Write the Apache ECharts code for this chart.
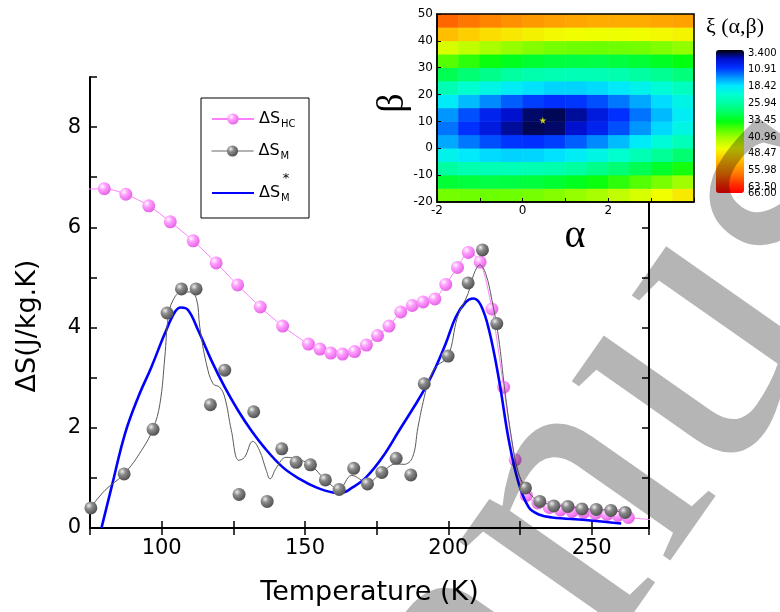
<!DOCTYPE html>
<html><head><meta charset="utf-8">
<script src="https://cdn.jsdelivr.net/npm/echarts@6/dist/echarts.min.js"></script>
<style>html,body{margin:0;padding:0;background:#fff}#c{width:780px;height:612px}</style>
</head><body><div id="c"></div>
<script>
// ---------- main chart data ----------
const HC_T = [72, 80, 87.5, 95.5, 103, 111, 119, 126.5, 134.4, 142.2, 151.2, 155.2, 159, 163.1, 167.3, 171.4, 175.3, 179.3, 183.4, 187.4, 191.2, 195.3, 199.1, 203.2, 207, 211.1, 215.2, 219.3, 223.3, 227.2, 231.2, 235.2, 239.1, 243.2, 247.2, 251.3, 255.4, 259.2, 262.8, 272];
const HC_S = [6.76, 6.77, 6.66, 6.43, 6.11, 5.73, 5.29, 4.85, 4.41, 4.03, 3.67, 3.57, 3.49, 3.47, 3.52, 3.65, 3.84, 4.03, 4.31, 4.44, 4.51, 4.57, 4.86, 5.20, 5.50, 5.31, 4.37, 2.81, 1.36, 0.65, 0.50, 0.41, 0.36, 0.33, 0.31, 0.29, 0.27, 0.25, 0.21, 0.16];

const M_T = [75.3, 86.9, 97, 101.9, 106.9, 112, 117, 122, 127, 132.1, 136.8, 141.9, 146.9, 151.9, 157.1, 161.9, 167, 171.8, 176.8, 181.8, 186.9, 191.6, 199.9, 206.9, 211.9, 216.9, 226.9, 231.9, 236.8, 241.7, 246.6, 251.6, 256.7, 261.7];
const M_S = [0.40, 1.08, 1.97, 4.29, 4.77, 4.77, 2.46, 3.15, 0.67, 2.32, 0.53, 1.58, 1.31, 1.26, 0.96, 0.77, 1.19, 0.88, 1.11, 1.39, 1.06, 2.88, 3.43, 4.89, 5.55, 4.08, 0.80, 0.53, 0.44, 0.43, 0.38, 0.37, 0.35, 0.31];

const FIT_T = [75, 80.2, 86.9, 93, 97, 99.4, 101.1, 102.3, 104, 106.9, 109.8, 112.1, 113.3, 115.6, 117.9, 120.2, 122, 124.3, 126.9, 128.9, 131.8, 134.1, 136.5, 137.8, 140, 143.4, 146.9, 151.9, 157.1, 161.9, 166.3, 171.8, 176.8, 181.8, 184.5, 187.5, 189.4, 191.6, 193.3, 195.6, 199.9, 203.2, 206.9, 209, 211, 213, 215.2, 217.5, 219.7, 222, 224.2, 226.9, 229.7, 232, 236.8, 241.7, 246.6, 251.6, 256.7, 261.7];
const FIT_S = [0.39, 0.75, 1.08, 1.55, 1.98, 2.48, 3.41, 4.21, 4.55, 4.71, 4.71, 4.58, 4.01, 3.28, 2.88, 2.81, 2.61, 1.95, 1.35, 1.41, 1.73, 1.55, 1.15, 0.98, 1.20, 1.41, 1.38, 1.26, 0.96, 0.78, 1.05, 0.91, 1.11, 1.28, 1.27, 1.41, 2.01, 2.61, 2.95, 3.21, 3.43, 4.21, 4.68, 5.08, 5.25, 5.08, 4.55, 3.81, 2.75, 1.81, 1.15, 0.80, 0.61, 0.52, 0.46, 0.43, 0.39, 0.37, 0.35, 0.31];

const STAR_T = [79, 82.5, 87.2, 91.8, 96.4, 101.1, 104.6, 106.7, 109.2, 112.7, 117.3, 122, 126.6, 131.2, 136.2, 142.3, 148.1, 153.9, 159.7, 162.5, 166.6, 171.3, 177, 182.9, 188.7, 192.1, 195.6, 199.1, 202.6, 206.1, 208.7, 211.3, 214.2, 217.7, 221.1, 224.6, 228.1, 231.6, 236.2, 247.8, 260.3];
const STAR_S = [0, 0.81, 1.88, 2.61, 3.21, 3.88, 4.31, 4.40, 4.35, 3.95, 3.35, 2.81, 2.35, 1.95, 1.58, 1.21, 0.98, 0.81, 0.71, 0.70, 0.81, 1.01, 1.41, 1.95, 2.48, 2.81, 3.21, 3.68, 4.21, 4.51, 4.58, 4.45, 3.95, 2.95, 1.75, 0.88, 0.41, 0.27, 0.21, 0.16, 0.09];

// ---------- inset data: xi(alpha, beta) at cell centres ----------
const ALPHA_C = [-1.75, -1.25, -0.75, -0.25, 0.25, 0.75, 1.25, 1.75, 2.25, 2.75, 3.25, 3.75];
const BETA_C = [-17.5, -12.5, -7.5, -2.5, 2.5, 7.5, 12.5, 17.5, 22.5, 27.5, 32.5, 37.5, 42.5, 47.5];
const XI_ROWS = [
  [39.6,39.3,39.2,39.3,39.7,40.3,41.2,42.2,43.5,44.9,46.5,48.2],
  [32.9,32.4,32.1,32.2,32.5,33.1,34.0,35.1,36.5,38.1,39.8,41.7],
  [26.6,25.7,25.2,25.1,25.3,25.9,26.9,28.2,29.7,31.4,33.4,35.5],
  [20.8,19.4,18.5,18.1,18.2,18.8,19.9,21.3,23.1,25.2,27.4,29.8],
  [16.2,14.1,12.5,11.4,11.2,11.8,13.1,14.9,17.1,19.6,22.2,24.9],
  [14.0,11.2,8.5,6.3,5.0,5.4,7.3,9.8,12.5,15.4,18.4,21.3],
  [15.4,12.5,9.8,7.3,5.4,5.0,6.3,8.5,11.2,14.0,17.0,19.9],
  [19.6,17.1,14.9,13.1,11.8,11.2,11.4,12.5,14.1,16.2,18.5,21.1],
  [25.2,23.1,21.3,19.9,18.8,18.2,18.1,18.5,19.4,20.8,22.4,24.4],
  [31.4,29.7,28.2,26.9,25.9,25.3,25.1,25.2,25.7,26.6,27.7,29.2],
  [38.1,36.5,35.1,34.0,33.1,32.5,32.2,32.1,32.4,32.9,33.8,34.8],
  [44.9,43.5,42.2,41.2,40.3,39.7,39.3,39.2,39.3,39.6,40.2,41.0],
  [51.8,50.5,49.3,48.4,47.6,46.9,46.5,46.3,46.3,46.5,46.9,47.4],
  [58.8,57.6,56.5,55.6,54.8,54.2,53.7,53.4,53.3,53.4,53.7,54.1]
];
const MIN_POINT = [0.47, 10.4];
const CBAR_TICKS = [3.4, 10.91, 18.42, 25.94, 33.45, 40.96, 48.47, 55.98, 63.5];
const CBAR_END_TICK = [66];
const XI_MIN = 3.4, XI_MAX = 66;

// ---------- layout ----------
const MAIN = {left: 90, top: 77, width: 559, height: 451};
const INSET = {left: 437, top: 14, width: 257, height: 188};
const CBAR = {left: 716, top: 53, width: 28, height: 140};
const X_MIN = 75, X_MAX = 270;

const chart = echarts.init(document.getElementById('c'), null, {renderer: 'canvas'});

const pinkBall = new echarts.graphic.RadialGradient(0.35, 0.32, 0.75, [
  {offset: 0, color: '#ffffff'}, {offset: 0.35, color: '#ffa0ff'}, {offset: 1, color: '#e35ce3'}]);
const grayBall = new echarts.graphic.RadialGradient(0.35, 0.32, 0.75, [
  {offset: 0, color: '#eeeeee'}, {offset: 0.35, color: '#8c8c8c'}, {offset: 1, color: '#4a4a4a'}]);

const zip = (a, b) => a.map((v, i) => [v, b[i]]);
const hcData = HC_T.map((t, i) => {
  const it = {value: [t, HC_S[i]]};
  if (t < X_MIN || t > X_MAX) it.symbol = 'none';
  return it;
});
const heatData = [];
XI_ROWS.forEach((row, j) => row.forEach((v, i) => heatData.push([i, j, v])));

const FONT = 'DejaVu Sans';
const legendCommon = {
  orient: 'vertical', left: 211, itemWidth: 42, itemHeight: 14, itemGap: 0,
  selectedMode: false, padding: 0,
  formatter: n => n === 'ΔS_HC' ? '{m|ΔS}{s|HC}' : '{m|ΔS}{s|M}',
  textStyle: {color: '#000', fontFamily: FONT, fontSize: 16,
    rich: {m: {fontFamily: FONT, fontSize: 16, color: '#000'},
           s: {fontFamily: FONT, fontSize: 10, color: '#000', padding: [10, 0, 0, 1]}}}
};

const mainAxisCommon = {
  type: 'value', min: X_MIN, max: X_MAX, interval: 25, gridIndex: 0,
  axisLine: {show: true, lineStyle: {color: '#000', width: 2}},
  axisTick: {show: true, inside: true, length: 7, lineStyle: {color: '#000', width: 1.5}},
  splitLine: {show: false}
};
const mainYCommon = {
  type: 'value', min: 0, max: 9, interval: 1, gridIndex: 0,
  axisLine: {show: true, lineStyle: {color: '#000', width: 2}},
  axisTick: {show: true, inside: true, length: 7, lineStyle: {color: '#000', width: 1.5}},
  splitLine: {show: false}
};
const cbarAxisCommon = {
  type: 'value', gridIndex: 2, min: XI_MIN, max: XI_MAX, inverse: true, position: 'right',
  axisLine: {show: false}, axisTick: {show: false}, splitLine: {show: false}
};
const cbarLabel = {fontFamily: FONT, fontSize: 10, color: '#000', margin: 4,
  formatter: v => (v < 10 ? v.toFixed(3) : v.toFixed(2))};

const option = {
  animation: false,
  backgroundColor: '#fff',
  grid: [
    Object.assign({containLabel: false}, MAIN),
    Object.assign({show: true, backgroundColor: '#fff', borderWidth: 0}, INSET),
    Object.assign({show: false}, CBAR)
  ],
  xAxis: [
    Object.assign({}, mainAxisCommon, {position: 'bottom',
      axisLabel: {fontFamily: FONT, fontSize: 21, color: '#000', margin: 10,
        formatter: v => (v % 50 === 0 ? String(v) : '')},
      name: 'Temperature (K)', nameLocation: 'middle', nameGap: 51,
      nameTextStyle: {fontFamily: FONT, fontSize: 27, color: '#000'}}),
    Object.assign({}, mainAxisCommon, {position: 'top', axisLabel: {show: false}}),
    {type: 'category', gridIndex: 1, data: ALPHA_C, show: false},
    {type: 'value', gridIndex: 1, min: -2, max: 4, interval: 1, position: 'bottom', z: 6,
      axisLine: {show: true, onZero: false, lineStyle: {color: '#000', width: 1.5}},
      axisTick: {show: true, inside: true, length: 4, lineStyle: {color: '#000'}},
      axisLabel: {fontFamily: FONT, fontSize: 12, color: '#000', margin: 3,
        formatter: v => (v % 2 === 0 && v < 4 ? String(v) : '')},
      splitLine: {show: false}},
    {type: 'value', gridIndex: 2, show: false, min: 0, max: 1}
  ],
  yAxis: [
    Object.assign({}, mainYCommon, {position: 'left',
      axisLabel: {fontFamily: FONT, fontSize: 21, color: '#000', margin: 9,
        formatter: v => (v % 2 === 0 ? String(v) : '')}}),
    Object.assign({}, mainYCommon, {position: 'right', axisLabel: {show: false}}),
    {type: 'category', gridIndex: 1, data: BETA_C, show: false},
    {type: 'value', gridIndex: 1, min: -20, max: 50, interval: 10, position: 'left', z: 6,
      axisLine: {show: true, onZero: false, lineStyle: {color: '#000', width: 1.5}},
      axisTick: {show: true, inside: true, length: 4, lineStyle: {color: '#000'}},
      axisLabel: {fontFamily: FONT, fontSize: 12, color: '#000', margin: 4},
      splitLine: {show: false}},
    Object.assign({}, cbarAxisCommon, {axisLabel: Object.assign({customValues: CBAR_TICKS}, cbarLabel)}),
    Object.assign({}, cbarAxisCommon, {axisLabel: Object.assign({customValues: CBAR_END_TICK, showMaxLabel: true}, cbarLabel)})
  ],
  visualMap: {
    type: 'continuous', seriesIndex: 4, dimension: 2, min: XI_MIN, max: XI_MAX,
    inverse: true, orient: 'vertical', left: CBAR.left, top: CBAR.top - 3,
    itemWidth: CBAR.width, itemHeight: CBAR.height + 3, padding: 0,
    calculable: false, hoverLink: false, realtime: false, showLabel: false,
    inRange: {color: ['#000000', '#0010d0', '#0030ff', '#0090ff', '#00e8ff', '#00ffd0', '#00ffa0',
      '#00ff60', '#00ff10', '#60ff00', '#b0ff00', '#f0ff00', '#ffd000', '#ffa000', '#ff7000', '#ff3000', '#ff0000']}
  },
  legend: [
    Object.assign({}, legendCommon, {top: 111, data: ['ΔS_HC']}),
    Object.assign({}, legendCommon, {top: 143, data: [{name: 'ΔS_M', lineStyle: {color: '#666', width: 1, opacity: 1}}]}),
    Object.assign({}, legendCommon, {top: 185, data: [{name: 'ΔS_M*', itemStyle: {opacity: 0}}]})
  ],
  series: [
    {name: 'ΔS_HC', type: 'line', xAxisIndex: 0, yAxisIndex: 0, data: hcData, smooth: 0.3,
      symbol: 'circle', symbolSize: 13, itemStyle: {color: pinkBall},
      lineStyle: {color: '#ff80ff', width: 1}, z: 2},
    {name: 'ΔS_M*', type: 'line', xAxisIndex: 0, yAxisIndex: 0, data: zip(STAR_T, STAR_S), smooth: 0.4,
      symbol: 'none', lineStyle: {color: '#0000ff', width: 2.6}, itemStyle: {color: '#0000ff'}, z: 3},
    {name: 'ΔS_M fit', type: 'line', xAxisIndex: 0, yAxisIndex: 0, data: zip(FIT_T, FIT_S), smooth: 0.4,
      symbol: 'none', lineStyle: {color: '#5a5a5a', width: 1}, z: 4},
    {name: 'ΔS_M', type: 'line', xAxisIndex: 0, yAxisIndex: 0, data: zip(M_T, M_S),
      symbol: 'circle', symbolSize: 13, itemStyle: {color: grayBall},
      lineStyle: {color: '#666', width: 1, opacity: 0}, z: 5},
    {name: 'xi', type: 'heatmap', xAxisIndex: 2, yAxisIndex: 2, data: heatData, z: 3,
      itemStyle: {borderWidth: 0}, emphasis: {disabled: true}},
    {name: 'min', type: 'scatter', xAxisIndex: 3, yAxisIndex: 3, data: [MIN_POINT], z: 10,
      symbol: 'path://M50,0 L61,35 L98,35 L68,57 L79,91 L50,70 L21,91 L32,57 L2,35 L39,35 Z',
      symbolSize: 7, itemStyle: {color: '#ffff00'}}
  ],
  graphic: [
    {type: 'text', x: 28, y: 326, rotation: Math.PI / 2, z: 5,
      style: {text: 'ΔS(J/kg.K)', fontFamily: FONT, fontSize: 27, fill: '#000', align: 'center', verticalAlign: 'middle'}},
    {type: 'rect', shape: {x: 201, y: 98, width: 108, height: 120}, z: 1,
      style: {fill: '#fff', stroke: '#000', lineWidth: 1}},
    {type: 'text', x: 286, y: 179, z: 6,
      style: {text: '*', fontFamily: FONT, fontSize: 13, fill: '#000', align: 'center', verticalAlign: 'middle'}},
    {type: 'rect', shape: {x: INSET.left, y: INSET.top, width: INSET.width, height: INSET.height}, z: 50,
      style: {fill: 'none', stroke: '#000', lineWidth: 1.5}},
    {type: 'text', x: 575, y: 236, z: 6,
      style: {text: 'α', font: '40px "Liberation Serif"', fill: '#000', align: 'center', verticalAlign: 'middle'}},
    {type: 'text', x: 393, y: 103, rotation: Math.PI / 2, z: 6,
      style: {text: 'β', font: '38px "Liberation Serif"', fill: '#000', align: 'center', verticalAlign: 'middle'}},
    {type: 'text', x: 735, y: 27, z: 6,
      style: {text: 'ξ (α,β)', font: '22px "Liberation Serif"', fill: '#000', align: 'center', verticalAlign: 'middle'}},
    {type: 'text', x: 735, y: 285, rotation: 55 * Math.PI / 180, z: 100, silent: true,
      style: {text: 'Manuscript', font: '400px "Liberation Serif"', fill: 'rgba(0,0,0,0.29)', align: 'center', verticalAlign: 'middle'}}
  ]
};
chart.setOption(option);
</script>
</body></html>
